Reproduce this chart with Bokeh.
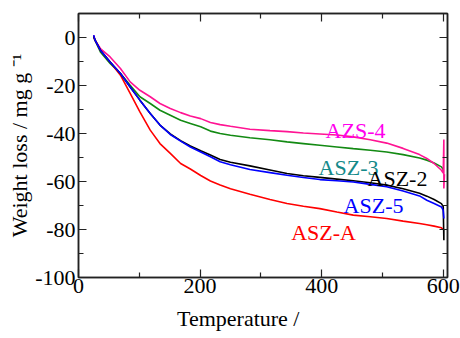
import math
from bokeh.plotting import figure
from bokeh.models import LinearAxis, FixedTicker, Range1d, Label
from bokeh.embed import file_html
from bokeh.resources import INLINE

temperature = [25, 27, 36, 52, 69, 85, 101, 118, 134, 151, 168, 184, 201, 217, 233, 250,
               282, 315, 343, 370, 397, 425, 452, 480, 507, 534, 561, 573, 585, 597, 600]

azs4 = [1.0, -1.0, -4.6, -8.1, -12.9, -18.5, -22.0, -24.7, -27.5, -29.6, -31.3, -32.7, -33.8, -35.4,
        -36.3, -37.0, -38.2, -38.8, -39.2, -39.8, -40.2, -40.6, -41.4, -42.6, -44.0, -46.2, -48.8,
        -50.4, -52.5, -55.3, -56.5]
azs4_end_t = [601, 601, 602]
azs4_end_w = [-42.5, -62.9, -57.0]

asz3 = [0.5, -1.0, -6.0, -10.8, -15.0, -19.9, -24.7, -27.5, -30.3, -32.4, -34.5, -35.8, -37.2, -39.0,
        -40.0, -40.7, -41.8, -42.6, -43.5, -44.2, -44.9, -45.6, -46.3, -47.0, -47.7, -48.8, -50.2,
        -51.1, -52.3, -53.9, -55.0]

asz2 = [0.5, -1.0, -5.3, -10.2, -15.0, -20.6, -26.1, -31.7, -36.5, -40.2, -43.0, -45.2, -47.2, -49.0,
        -50.8, -52.0, -53.5, -55.2, -56.7, -57.6, -58.3, -59.0, -59.7, -60.5, -61.5, -63.0, -64.9,
        -66.1, -67.5, -69.2, -70.5]
asz2_end_t = [601, 601]
asz2_end_w = [-84.5, -80.0]

asz5 = [1.0, -1.0, -5.3, -10.2, -15.0, -20.6, -26.1, -31.7, -36.5, -40.4, -43.2, -45.6, -47.7, -49.7,
        -51.8, -53.0, -55.0, -56.3, -57.4, -58.3, -59.2, -59.7, -60.2, -61.2, -62.2, -64.0, -66.0,
        -67.8, -69.2, -70.6, -72.0]
asz5_end_t = [601]
asz5_end_w = [-75.4]

asza = [0.5, -1.0, -5.3, -10.2, -15.7, -23.3, -31.0, -38.6, -44.2, -48.3, -52.5, -54.8, -57.5, -59.8,
        -61.5, -63.0, -65.3, -67.5, -69.2, -70.3, -71.3, -72.7, -74.0, -74.7, -75.4, -76.5, -77.5,
        -78.0, -78.6, -79.3, -80.0]

x_ticks = [0, 200, 400, 600]
x_minor = [100, 300, 500]
y_ticks = [0, -20, -40, -60, -80, -100]
y_minor = [10, -10, -30, -50, -70, -90]
y_tick_text = ["0", "-20", "-40", "-60", "-80", "-100"]

x_title = "Temperature /"
y_title = "Weight loss / mg g \u207b\u00b9"

FONT = "Liberation Serif"
AX = "#222222"

p = figure(width=460, height=338, output_backend="svg", toolbar_location=None,
           x_range=Range1d(0, 607), y_range=Range1d(-100, 10),
           min_border_left=78, min_border_right=13, min_border_top=13, min_border_bottom=61,
           x_axis_location=None, y_axis_location=None)
p.xgrid.visible = False
p.ygrid.visible = False
p.outline_line_color = AX
p.outline_line_width = 1.5
p.background_fill_color = "white"
p.border_fill_color = "white"

def make_axis(kind, show_labels):
    ax = LinearAxis()
    if kind == "x":
        ax.ticker = FixedTicker(ticks=x_ticks, minor_ticks=x_minor)
    else:
        ax.ticker = FixedTicker(ticks=y_ticks, minor_ticks=y_minor)
        ax.major_label_overrides = {t: s for t, s in zip(y_ticks, y_tick_text)}
    ax.axis_line_color = AX
    ax.axis_line_width = 1.5
    ax.major_tick_line_color = AX
    ax.major_tick_line_width = 1.2
    ax.minor_tick_line_color = AX
    ax.minor_tick_line_width = 1.2
    ax.major_tick_in = 8
    ax.major_tick_out = 0
    ax.minor_tick_in = 5
    ax.minor_tick_out = 0
    ax.major_label_text_font = FONT
    ax.major_label_text_color = "black"
    ax.axis_label_text_font = FONT
    ax.axis_label_text_font_style = "normal"
    ax.axis_label_text_color = "black"
    if show_labels:
        ax.major_label_text_font_size = "22px"
        ax.major_label_standoff = 3 if kind == "y" else 1
    else:
        ax.major_label_text_font_size = "1px"
        ax.major_label_text_alpha = 0
        ax.major_label_standoff = 0
    return ax

xb = make_axis("x", True)
xb.axis_label = x_title + "\u00a0" * 9
xb.axis_label_text_font_size = "22px"
xb.axis_label_standoff = 10
p.add_layout(xb, "below")

yl = make_axis("y", True)
yl.axis_label = y_title
yl.axis_label_text_font_size = "22px"
yl.axis_label_standoff = 0
p.add_layout(yl, "left")

p.add_layout(make_axis("x", False), "above")
p.add_layout(make_axis("y", False), "right")

LW = 1.6
p.line(temperature, asz3, line_color="#138a13", line_width=LW)
p.line(temperature + azs4_end_t, azs4 + azs4_end_w, line_color="#ff1493", line_width=LW)
p.line(temperature, asza, line_color="#ff0000", line_width=LW)
p.line(temperature + asz2_end_t, asz2 + asz2_end_w, line_color="#000000", line_width=LW)
p.line(temperature + asz5_end_t, asz5 + asz5_end_w, line_color="#0000ff", line_width=LW)

def lab(x, y, text, color):
    p.add_layout(Label(x=x, y=y, text=text, text_color=color, text_font=FONT,
                       text_font_size="22px", text_align="center", text_baseline="alphabetic"))

lab(455.7, -38.6, "AZS-4", "#ff00ee")
lab(444.2, -54.0, "ASZ-3", "#158a8a")
lab(524.7, -58.6, "ASZ-2", "#000000")
lab(485.3, -69.9, "ASZ-5", "#0000ff")
lab(403.1, -81.1, "ASZ-A", "#ff0000")

open("out.html", "w").write(file_html(p, INLINE))
